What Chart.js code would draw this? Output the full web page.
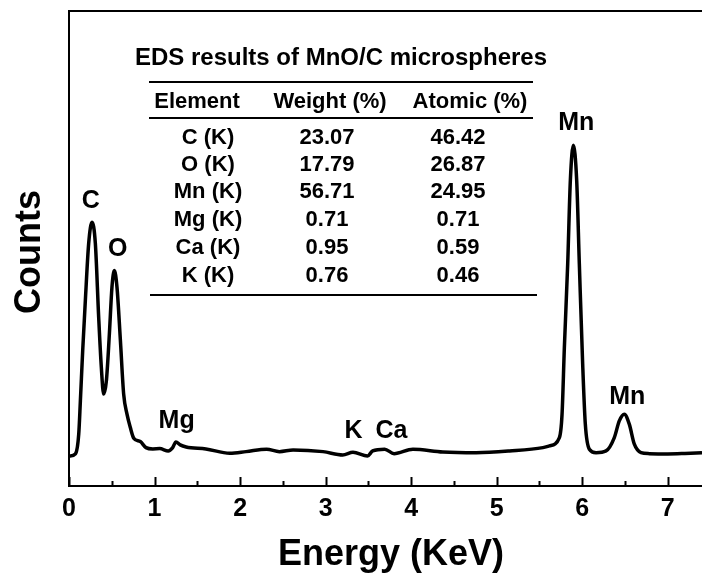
<!DOCTYPE html>
<html>
<head>
<meta charset="utf-8">
<script src="https://cdn.jsdelivr.net/npm/chart.js@4"></script>
<style>
  html, body { margin: 0; padding: 0; background: #fff; }
  #wrap { position: relative; width: 702px; height: 575px; }
</style>
</head>
<body>
<div id="wrap"><canvas id="eds"></canvas></div>
<script>
// spectrum (energy in keV, counts in arbitrary units)
const energies = [0.0, 0.016, 0.075, 0.114, 0.133, 0.160, 0.191, 0.230, 0.269, 0.308, 0.347, 0.378, 0.405,
  0.437, 0.472, 0.502, 0.530, 0.561, 0.601, 0.639, 0.678, 0.717, 0.757, 0.834, 0.90, 0.98, 1.06, 1.16,
  1.21, 1.25, 1.30, 1.37, 1.6, 1.88, 2.07, 2.31, 2.46, 2.62, 2.97, 3.2, 3.32, 3.49, 3.55, 3.69, 3.80,
  4.02, 4.37, 4.76, 5.15, 5.54, 5.616, 5.733, 5.764, 5.791, 5.830, 5.861, 5.896, 5.935, 5.966, 6.005,
  6.036, 6.083, 6.161, 6.278, 6.375, 6.433, 6.492, 6.550, 6.609, 6.687, 6.784, 7.0, 7.2, 7.4];
const counts = [300, 300, 320, 520, 850, 1350, 1850, 2420, 2633, 2420, 1683, 1183, 917,
  1050, 1517, 1983, 2150, 1983, 1450, 917, 717, 583, 477, 443, 383, 370, 373, 350,
  380, 440, 410, 390, 370, 327, 343, 367, 343, 360, 343, 310, 337, 300, 350, 367, 323,
  367, 340, 333, 350, 383, 400, 483, 717, 1383, 2217, 3050, 3400, 3050, 2217, 1217,
  617, 367, 333, 350, 483, 650, 717, 617, 417, 333, 323, 320, 325, 333];

// peak labels, anchored in data units
const peakNames = ['C', 'O', 'Mg', 'K', 'Ca', 'Mn', 'Mn'];
const peakEnergies = [0.254, 0.57, 1.258, 3.325, 3.77, 5.93, 6.527];
const peakLabelCounts = [2840, 2360, 650, 550, 550, 3620, 890];

// inset table
const tableTitle = 'EDS results of MnO/C microspheres';
const tableHeader = ['Element', 'Weight (%)', 'Atomic (%)'];
const elements = ['C (K)', 'O (K)', 'Mn (K)', 'Mg (K)', 'Ca (K)', 'K (K)'];
const weights = ['23.07', '17.79', '56.71', '0.71', '0.95', '0.76'];
const atomics = ['46.42', '26.87', '24.95', '0.71', '0.59', '0.46'];

const FONT = '"Liberation Sans", Arial, sans-serif';

const decor = {
    id: 'decor',
    afterDraw(chart) {
        const ctx = chart.ctx;
        const a = chart.chartArea;
        const xs = chart.scales.x, ys = chart.scales.y;
        ctx.save();
        ctx.strokeStyle = '#000';
        ctx.fillStyle = '#000';

        // frame
        ctx.lineWidth = 2;
        ctx.strokeRect(a.left, a.top, a.right - a.left + 2, a.bottom - a.top);

        // inward ticks
        for (let v = 0; v <= 7.4; v += 0.5) {
            const px = Math.round(xs.getPixelForValue(v)) + 0.5;
            const len = Number.isInteger(v) ? 9 : 5;
            ctx.beginPath();
            ctx.moveTo(px, a.bottom);
            ctx.lineTo(px, a.bottom - len);
            ctx.stroke();
        }

        // axis titles
        ctx.textAlign = 'center';
        ctx.textBaseline = 'middle';
        ctx.font = 'bold 36px ' + FONT;
        ctx.fillText('Energy (KeV)', 391, 555);
        ctx.save();
        ctx.translate(30, 252);
        ctx.rotate(-Math.PI / 2);
        ctx.fillText('Counts', 0, 0);
        ctx.restore();

        // peak labels
        ctx.font = 'bold 25px ' + FONT;
        peakNames.forEach((name, i) => {
            ctx.fillText(name, xs.getPixelForValue(peakEnergies[i]), ys.getPixelForValue(peakLabelCounts[i]));
        });

        // table
        ctx.font = 'bold 24px ' + FONT;
        ctx.fillText(tableTitle, 341, 58);
        ctx.lineWidth = 2;
        [[149, 533, 82], [149, 533, 118], [150, 537, 295]].forEach(l => {
            ctx.beginPath();
            ctx.moveTo(l[0], l[2]);
            ctx.lineTo(l[1], l[2]);
            ctx.stroke();
        });
        ctx.font = 'bold 22px ' + FONT;
        const headX = [197, 330, 470];
        tableHeader.forEach((h, i) => ctx.fillText(h, headX[i], 102));
        const colX = [208, 327, 458];
        const rowY = [138, 165, 192, 220, 248, 276];
        elements.forEach((el, i) => {
            ctx.fillText(el, colX[0], rowY[i]);
            ctx.fillText(weights[i], colX[1], rowY[i]);
            ctx.fillText(atomics[i], colX[2], rowY[i]);
        });
        ctx.restore();
    }
};

new Chart(document.getElementById('eds'), {
    type: 'line',
    data: {
        datasets: [{
            data: energies.map((e, i) => ({ x: e, y: counts[i] })),
            borderColor: '#000',
            borderWidth: 3.5,
            pointRadius: 0,
            cubicInterpolationMode: 'monotone',
            fill: false
        }]
    },
    options: {
        responsive: true,
        maintainAspectRatio: false,
        animation: false,
        layout: { padding: { left: 69, top: 11, right: 0, bottom: 43 } },
        plugins: {
            legend: { display: false },
            tooltip: { enabled: false }
        },
        scales: {
            x: {
                type: 'linear',
                min: 0,
                max: 7.4,
                grid: { display: false, drawTicks: false },
                border: { display: false },
                ticks: {
                    stepSize: 1,
                    includeBounds: false,
                    padding: 8,
                    color: '#000',
                    font: { family: FONT, size: 25, weight: 'bold' },
                    maxRotation: 0
                }
            },
            y: {
                display: false,
                min: 0,
                max: 4740
            }
        }
    },
    plugins: [decor]
});
</script>
</body>
</html>
